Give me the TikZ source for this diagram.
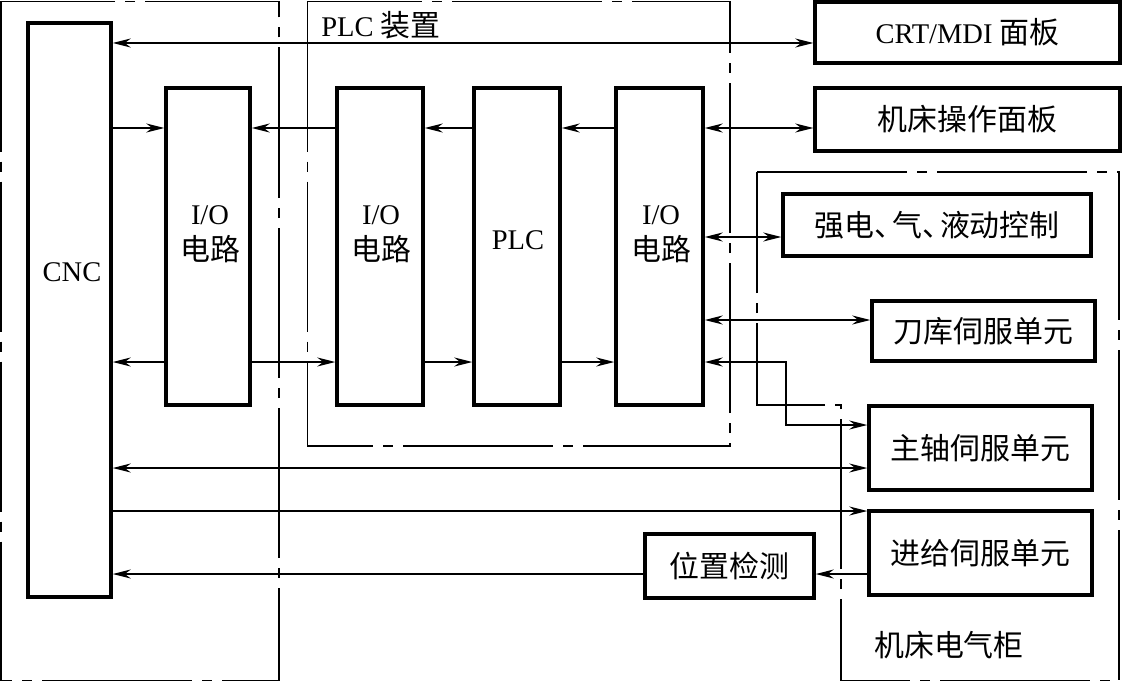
\documentclass[tikz,border=0pt]{standalone}
\usepackage{fontspec}
\setmainfont{Liberation Serif}
\newfontfamily\cjk[Scale=1.05]{Noto Sans CJK SC}
\usetikzlibrary{positioning,arrows.meta,calc}
\tikzset{
  blk/.style={rectangle,draw=black,line width=3.5pt,inner sep=0pt,align=center},
  tall/.style={blk,minimum width=86pt,minimum height=317pt},
  unit/.style={blk,minimum width=223pt,minimum height=84pt},
  txt/.style={inner sep=0pt,align=center},
  frame/.style={draw=black,line width=1.3pt,dash pattern=on 150pt off 10pt on 10pt off 10pt},
  sig/.style={line width=1.3pt,-{Stealth[length=18pt,width=9pt,inset=6pt]}},
  bisig/.style={line width=1.3pt,{Stealth[length=18pt,width=9pt,inset=6pt]}-{Stealth[length=18pt,width=9pt,inset=6pt]}},
}

\begin{document}
\begin{tikzpicture}[x=1pt,y=-1pt,font=\fontsize{28.5}{36}\selectfont]
  \useasboundingbox (0,0) rectangle (1124,682);
  % signal levels
  \coordinate (l1) at (0,43);
  \coordinate (l2) at (0,128);
  \coordinate (l3) at (0,237);
  \coordinate (l4) at (0,320);
  \coordinate (l5) at (0,362);
  \coordinate (l6) at (0,425);
  \coordinate (l7) at (0,468);
  \coordinate (l8) at (0,511);
  \coordinate (l9) at (0,574);
  \coordinate (jog) at (786,0);
  % frames
  \draw[frame] (1,1.5) rectangle (279,680.5);
  \draw[frame] (307.5,1.5) rectangle (730,446);
  \draw[frame] (757,172) -- (1119,172) -- (1119,680.5) -- (841,680.5) -- (841,405) -- (757,405) -- cycle;
  \node[txt] (plcdev) at (381,25) {PLC {\cjk 装置}};
  \node[txt] (cabinet) at (949,645) {\cjk 机床电气柜};
  % CNC side
  \node[blk,minimum width=83pt,minimum height=574pt] (cnc) at (69.5,310) {};
  \node[txt] (cnctxt) at (72,272) {CNC};
  \node[tall,minimum width=84pt] (io1) at (208,246.5) {};
  \node[txt] (io1txt) at (210,234) {I/O\\{\cjk 电路}};
  % PLC device
  \node[tall] (io2) at (380,246.5) {};
  \node[txt] (io2txt) at (381,234) {I/O\\{\cjk 电路}};
  \node[tall] (plc) at (517,246.5) {};
  \node[txt] (plctxt) at (518,240) {PLC};
  \node[tall,minimum width=87pt] (io3) at (659.5,246.5) {};
  \node[txt] (io3txt) at (661,234) {I/O\\{\cjk 电路}};
  % machine side
  \node[blk,minimum width=305pt,minimum height=61pt] (crt) at (967.5,32.5) {CRT/MDI {\cjk 面板}};
  \node[blk,minimum width=305pt,minimum height=63pt] (panel) at (967.5,119.5) {\cjk 机床操作面板};
  \node[blk,minimum width=308pt,minimum height=62pt] (power) at (937,225) {\cjk 强电、\kern-.4em 气、\kern-.4em 液动控制};
  \node[blk,minimum width=223pt,minimum height=60pt] (tool) at (983.5,331) {\cjk 刀库伺服单元};
  \node[unit] (spindle) at (980.5,448) {\cjk 主轴伺服单元};
  \node[unit] (feed) at (980.5,553) {\cjk 进给伺服单元};
  \node[blk,minimum width=169pt,minimum height=64pt] (pos) at (729.5,566) {\cjk 位置检测};
  % connectors
  \draw[bisig] (cnc.east |- l1) -- (crt.west |- l1);
  \draw[sig] (cnc.east |- l2) -- (io1.west |- l2);
  \draw[sig] (io2.west |- l2) -- (io1.east |- l2);
  \draw[sig] (plc.west |- l2) -- (io2.east |- l2);
  \draw[sig] (io3.west |- l2) -- (plc.east |- l2);
  \draw[bisig] (io3.east |- l2) -- (panel.west |- l2);
  \draw[sig] (io1.west |- l5) -- (cnc.east |- l5);
  \draw[sig] (io1.east |- l5) -- (io2.west |- l5);
  \draw[sig] (io2.east |- l5) -- (plc.west |- l5);
  \draw[sig] (plc.east |- l5) -- (io3.west |- l5);
  \draw[bisig] (io3.east |- l3) -- (power.west |- l3);
  \draw[bisig] (io3.east |- l4) -- (tool.west |- l4);
  \draw[bisig] (io3.east |- l5) -- (jog |- l5) -- (jog |- l6) -- (spindle.west |- l6);
  \draw[bisig] (cnc.east |- l7) -- (spindle.west |- l7);
  \draw[sig] (cnc.east |- l8) -- (feed.west |- l8);
  \draw[sig] (feed.west |- l9) -- (pos.east |- l9);
  \draw[sig] (pos.west |- l9) -- (cnc.east |- l9);
\end{tikzpicture}
\end{document}
